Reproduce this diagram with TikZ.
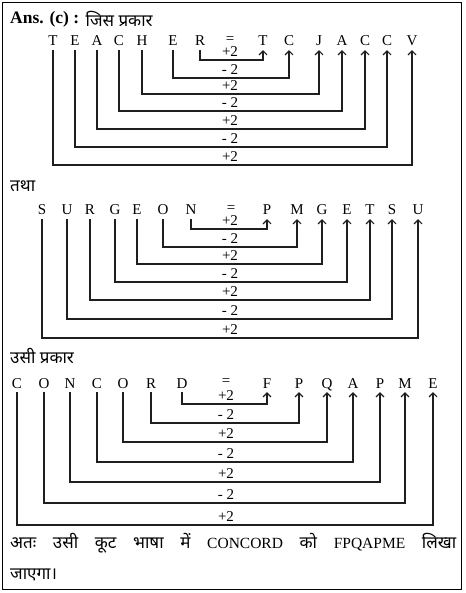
\documentclass[tikz,border=0pt]{standalone}
\usepackage{fontspec}
\setmainfont{Liberation Serif}
\newfontfamily\hin[Script=Devanagari]{Noto Sans}
\usetikzlibrary{arrows.meta}
\begin{document}
\begin{tikzpicture}[x=1pt,y=-1pt,
  let/.style={inner xsep=0pt, inner ysep=4pt, text height=10pt, text depth=0pt, font=\fontsize{15}{18}\selectfont},
  eqs/.style={inner sep=0pt, font=\fontsize{15}{18}\selectfont},
  lab/.style={inner sep=0pt, font=\fontsize{15}{18}\selectfont},
  arr/.style={draw=black!88, line width=1.1pt, -{Straight Barb[length=4pt,width=8pt,line width=1.1pt]}},
  hd/.style={anchor=west, inner sep=0pt, font=\hin\fontsize{17}{20}\selectfont}]
\useasboundingbox (0,0) rectangle (465,593);
\draw[line width=1pt] (2.5,2.5) rectangle (461.5,589);
% headings
\node[anchor=west, inner sep=0pt, font=\bfseries\fontsize{17.5}{20}\selectfont] (ans) at (10,19) {Ans. (c) :};
\node[hd] (h1) at ([xshift=6pt]ans.east) {जिस प्रकार};
\node[hd] (h2) at (10,186) {तथा};
\node[hd] (h3) at (10,356) {उसी प्रकार};
% ---- row 1 ----
\foreach \n/\l/\x in {1/T/53,2/E/75,3/A/97,4/C/119,5/H/142,6/E/173,7/R/200}
  \node[let] (a\n) at (\x,41) {\l};
\node[eqs] (ea) at (230,40) {=};
\foreach \n/\l/\x in {1/T/263,2/C/289,3/J/319,4/A/342,5/C/365,6/C/387,7/V/412}
  \node[let] (b\n) at (\x,41) {\l};
\foreach \s/\t/\lv/\lb in {7/1/60/+2,6/2/78/- 2,5/3/94/+2,4/4/111/- 2,3/5/129/+2,2/6/147/- 2,1/7/165/+2}{
  \draw[arr] (a\s.south) -- (a\s.south |- 0,\lv) -| (b\t.south);
  \node[lab] (la\s) at (230,\lv-8) {\lb};
}
% ---- row 2 ----
\foreach \n/\l/\x in {1/S/42,2/U/67,3/R/90,4/G/115,5/E/137,6/O/163,7/N/191}
  \node[let] (c\n) at (\x,210) {\l};
\node[eqs] (eb) at (231,209) {=};
\foreach \n/\l/\x in {1/P/267,2/M/297,3/G/322,4/E/347,5/T/370,6/S/392,7/U/418}
  \node[let] (d\n) at (\x,210) {\l};
\foreach \s/\t/\lv/\lb in {7/1/229/+2,6/2/247/- 2,5/3/264/+2,4/4/282/- 2,3/5/300/+2,2/6/319/- 2,1/7/338/+2}{
  \draw[arr] (c\s.south) -- (c\s.south |- 0,\lv) -| (d\t.south);
  \node[lab] (lb\s) at (230,\lv-8) {\lb};
}
% ---- row 3 ----
\foreach \n/\l/\x in {1/C/17,2/O/44,3/N/70,4/C/97,5/O/123,6/R/151,7/D/182}
  \node[let] (e\n) at (\x,383) {\l};
\node[eqs] (ec) at (226,382) {=};
\foreach \n/\l/\x in {1/F/267,2/P/299,3/Q/327,4/A/353,5/P/380,6/M/405,7/E/433}
  \node[let] (f\n) at (\x,383) {\l};
\foreach \s/\t/\lv/\lb in {7/1/404/+2,6/2/423/- 2,5/3/442/+2,4/4/462/- 2,3/5/482/+2,2/6/503/- 2,1/7/525/+2}{
  \draw[arr] (e\s.south) -- (e\s.south |- 0,\lv) -| (f\t.south);
  \node[lab] (lc\s) at (226,\lv-8.5) {\lb};
}
% ---- conclusion ----
\node[anchor=west, inner sep=0pt, font=\fontsize{15.5}{18}\selectfont] (fin) at (10,543)
  {\hbox to 446pt{\hin\fontsize{17}{20}\selectfont अतः\hfill उसी\hfill कूट\hfill भाषा\hfill में\hfill{\rmfamily\fontsize{15.5}{18}\selectfont CONCORD}\hfill को\hfill{\rmfamily\fontsize{15.5}{18}\selectfont FPQAPME}\hfill लिखा}};
\node[hd] (fin2) at (10,575) {जाएगा।};
\end{tikzpicture}
\end{document}
